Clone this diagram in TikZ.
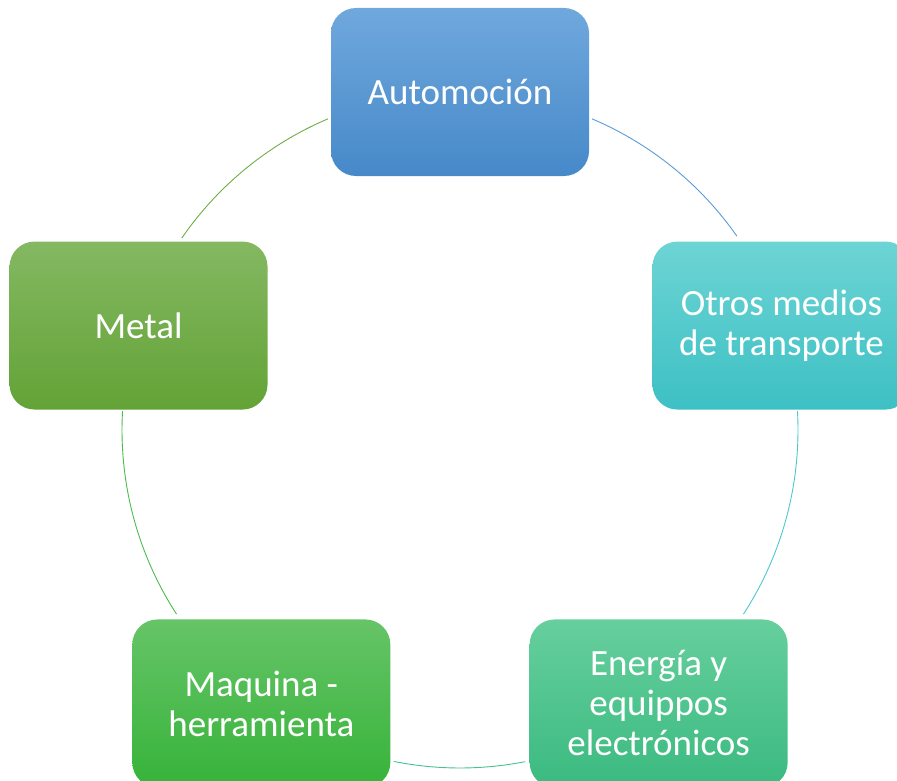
\documentclass[tikz,border=0pt]{standalone}
\usepackage{fontspec}
\setmainfont{Carlito}
\usetikzlibrary{calc}
\definecolor{autoTop}{HTML}{70A8DD}
\definecolor{autoBot}{HTML}{4689C9}
\definecolor{otrosTop}{HTML}{6DD4D4}
\definecolor{otrosBot}{HTML}{3DC0C4}
\definecolor{enerTop}{HTML}{66CF9D}
\definecolor{enerBot}{HTML}{3BBA80}
\definecolor{maqTop}{HTML}{66C467}
\definecolor{maqBot}{HTML}{36B33A}
\definecolor{metTop}{HTML}{84B862}
\definecolor{metBot}{HTML}{63A336}
\definecolor{autoLine}{HTML}{5B9BD5}
\definecolor{otrosLine}{HTML}{4BC8CE}
\definecolor{enerLine}{HTML}{46C28E}
\definecolor{maqLine}{HTML}{4CBC4E}
\definecolor{metLine}{HTML}{70AD47}

\begin{document}
\begin{tikzpicture}[x=1pt, y=1pt,
  box/.style={rectangle, rounded corners=25pt, minimum width=258pt, minimum height=168pt,
    inner sep=0pt, align=center, text=white, font=\fontsize{37}{40}\selectfont},
  link/.style={line width=0.9pt}]
\useasboundingbox (0,0) rectangle (897,-781);
\clip (0,0) rectangle (897,-781);
\coordinate (o) at (460,-430);
% cajas
\node[box, top color=autoTop, bottom color=autoBot] (auto) at ($(o)+(90:338)$) {Automoción};
\node[box, top color=otrosTop, bottom color=otrosBot] (otros) at ($(o)+(18:338)$) {Otros medios\\de transporte};
\node[box, top color=enerTop, bottom color=enerBot] (ener) at ($(o)+(-54:338)$) {Energía y\\equippos\\electrónicos};
\node[box, top color=maqTop, bottom color=maqBot] (maq) at ($(o)+(-126:338)$) {Maquina -\\herramienta};
\node[box, top color=metTop, bottom color=metBot] (met) at ($(o)+(162:338)$) {Metal};
% arcos
\draw[link, autoLine] ($(o)+(67:338)$) arc[start angle=67, end angle=35, radius=338];
\draw[link, otrosLine] ($(o)+(3.2:338)$) arc[start angle=3.2, end angle=-33, radius=338];
\draw[link, enerLine] ($(o)+(-78.9:338)$) arc[start angle=-78.9, end angle=-101.3, radius=338];
\draw[link, maqLine] ($(o)+(-147:338)$) arc[start angle=-147, end angle=-183.2, radius=338];
\draw[link, metLine] ($(o)+(145.4:338)$) arc[start angle=145.4, end angle=113, radius=338];
\end{tikzpicture}
\end{document}
